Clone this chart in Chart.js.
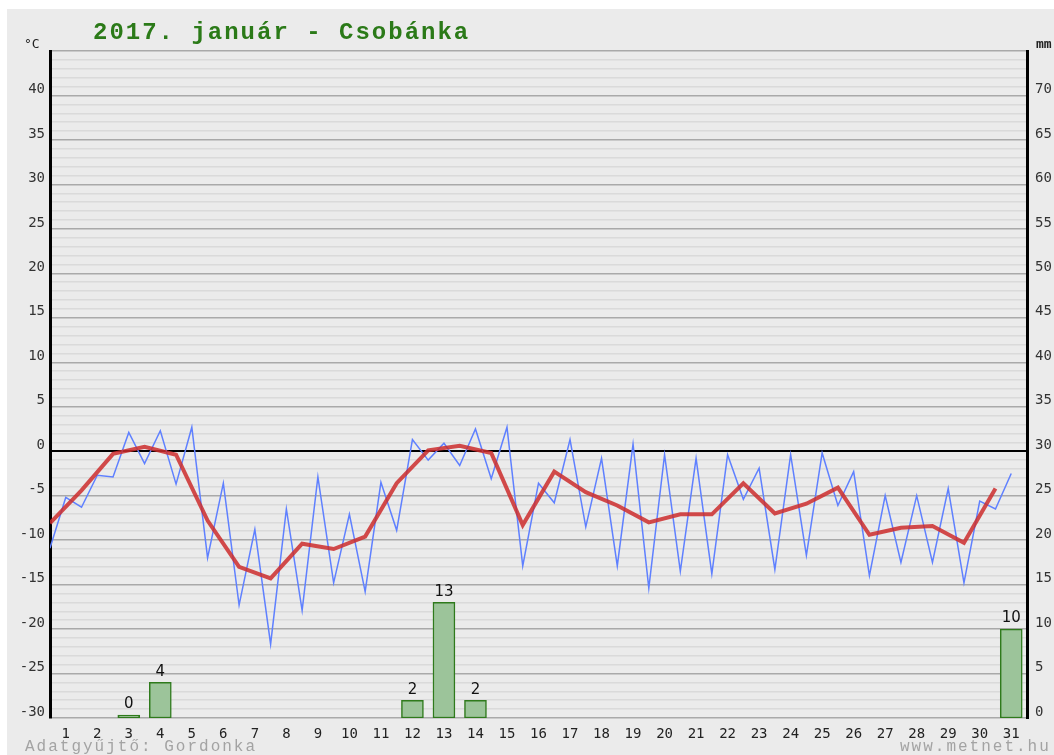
<!DOCTYPE html>
<html>
<head>
  <title>2017. január - Csobánka</title>
  <style>
    body {
      margin: 0;
      background: #ffffff;
    }
    #wrap {
      width: 1054px;
      height: 755px;
    }
  </style>
  <script src="https://cdn.jsdelivr.net/npm/chart.js"></script>
</head>
<body>
  <div id="wrap">
    <canvas id="chart" width="1054" height="755"></canvas>
  </div>
  <script>
    // Days of the month on the x axis
    const days = [1, 2, 3, 4, 5, 6, 7, 8, 9, 10, 11, 12, 13, 14, 15, 16,
                  17, 18, 19, 20, 21, 22, 23, 24, 25, 26, 27, 28, 29, 30, 31];

    // Temperature readings, two per day (°C), starting half a day before day 1
    const halfDayTemps = [
      -10.9, -5.2, -6.3, -2.7, -2.9, 2.1, -1.4, 2.3, -3.7, 2.7,
      -12.0, -3.6, -17.3, -8.8, -21.7, -6.5, -17.9, -2.9, -14.8, -7.1,
      -15.8, -3.5, -8.9, 1.3, -1.0, 0.9, -1.6, 2.5, -3.1, 2.7,
      -12.9, -3.6, -5.8, 1.3, -8.5, -0.8, -12.9, 0.8, -15.4, -0.4,
      -13.5, -0.8, -13.8, -0.4, -5.4, -1.9, -13.3, -0.4, -11.7, -0.2,
      -6.1, -2.3, -14.0, -5.0, -12.5, -5.0, -12.5, -4.2, -14.8, -5.6,
      -6.5, -2.5
    ];

    // Daily mean temperature (°C)
    const dailyMean = [
      -8.1, -4.4, -0.3, 0.5, -0.4, -7.8, -13.0, -14.3, -10.4, -11.0,
      -9.6, -3.6, 0.1, 0.6, -0.2, -8.3, -2.3, -4.6, -6.1, -8.0,
      -7.1, -7.1, -3.6, -7.0, -5.9, -4.1, -9.4, -8.6, -8.4, -10.3,
      -4.2
    ];

    // Precipitation (mm)
    const rainDays = [3, 4, 12, 13, 14, 31];
    const rainMm = [0, 4, 2, 13, 2, 10];

    const tempTicks = [-30, -25, -20, -15, -10, -5, 0, 5, 10, 15, 20, 25, 30, 35, 40];
    const rainTicks = [0, 5, 10, 15, 20, 25, 30, 35, 40, 45, 50, 55, 60, 65, 70];

    const monoFont = "'DejaVu Sans Mono', monospace";

    const tempPoints = halfDayTemps.map((t, i) => ({ x: 0.5 + i * 0.5, y: t }));
    const meanPoints = dailyMean.map((t, i) => ({ x: days[i] - 0.5, y: t }));
    const rainPoints = rainDays.map((d, i) => ({ x: d, y: rainMm[i] }));

    // Panel background, title, units and footer text
    const decorations = {
      id: 'decorations',
      beforeDraw(chart) {
        const ctx = chart.ctx;
        ctx.save();
        ctx.fillStyle = '#ffffff';
        ctx.fillRect(0, 0, chart.width, chart.height);
        ctx.fillStyle = '#ebebeb';
        ctx.fillRect(7, 9, chart.width - 7, chart.height - 9);
        ctx.restore();
      },
      afterDraw(chart) {
        const ctx = chart.ctx;
        ctx.save();
        ctx.textBaseline = 'alphabetic';
        ctx.textAlign = 'left';

        ctx.fillStyle = '#2b7a18';
        ctx.font = "bold 24px 'Liberation Mono', monospace";
        ctx.letterSpacing = '2px';
        ctx.fillText('2017. január - Csobánka', 93, 39);

        ctx.letterSpacing = '0px';
        ctx.fillStyle = '#222';
        ctx.font = '13px ' + monoFont;
        ctx.fillText('°C', 24, 48);
        ctx.font = 'bold 13px ' + monoFont;
        ctx.fillText('mm', 1036, 48);

        ctx.fillStyle = '#a3a3a3';
        ctx.font = "16px 'Liberation Mono', monospace";
        ctx.letterSpacing = '2px';
        ctx.fillText('Adatgyűjtő: Gordonka', 25, 751);
        ctx.fillText('www.metnet.hu', 900, 751);
        ctx.restore();
      }
    };

    // Value labels above the precipitation bars
    const barLabels = {
      id: 'barLabels',
      afterDatasetsDraw(chart) {
        const ctx = chart.ctx;
        const meta = chart.getDatasetMeta(0);
        ctx.save();
        ctx.fillStyle = '#111';
        ctx.font = "15px 'DejaVu Sans', sans-serif";
        ctx.textAlign = 'center';
        ctx.textBaseline = 'bottom';
        meta.data.forEach((bar, i) => {
          ctx.fillText(String(rainMm[i]), bar.x, bar.y - 3);
        });
        ctx.restore();
      }
    };

    new Chart(document.getElementById('chart'), {
      data: {
        datasets: [
          {
            type: 'bar',
            data: rainPoints,
            yAxisID: 'y2',
            backgroundColor: '#9cc49a',
            borderColor: '#2f7a1c',
            borderWidth: 1.5,
            borderSkipped: false,
            barThickness: 22,
            minBarLength: 3,
            order: 3
          },
          {
            type: 'line',
            data: tempPoints,
            yAxisID: 'y',
            borderColor: '#5f80ff',
            borderWidth: 1.5,
            pointRadius: 0,
            tension: 0,
            order: 2
          },
          {
            type: 'line',
            data: meanPoints,
            yAxisID: 'y',
            borderColor: 'rgba(205, 45, 45, 0.85)',
            borderWidth: 4,
            pointRadius: 0,
            tension: 0,
            order: 1
          }
        ]
      },
      options: {
        responsive: false,
        animation: false,
        events: [],
        layout: { padding: { top: 51, left: 0, right: 0, bottom: 0 } },
        plugins: {
          legend: { display: false },
          tooltip: { enabled: false }
        },
        scales: {
          x: {
            type: 'linear',
            offset: false,
            min: 0.5,
            max: 31.5,
            grid: { display: false, offset: false },
            border: { display: false },
            afterBuildTicks: scale => {
              scale.ticks = days.map(d => ({ value: d }));
            },
            afterFit: scale => { scale.height = 37; },
            ticks: {
              autoSkip: false,
              maxRotation: 0,
              padding: 0,
              color: '#222',
              font: { family: monoFont, size: 14 },
              callback: v => String(v)
            }
          },
          y: {
            position: 'left',
            min: -30,
            max: 45,
            afterBuildTicks: scale => {
              const ticks = [];
              for (let v = -30; v <= 45; v++) ticks.push({ value: v });
              scale.ticks = ticks;
            },
            afterFit: scale => { scale.width = 50; },
            border: { display: true, color: '#000', width: 3 },
            grid: {
              drawTicks: false,
              color: c => c.tick.value === 0 ? '#000000'
                : (c.tick.value % 5 === 0 ? '#a9a9a9' : '#dadada'),
              lineWidth: c => c.tick.value === 0 ? 2 : 1.5
            },
            ticks: {
              autoSkip: false,
              padding: 5,
              labelOffset: -6,
              color: '#333',
              font: { family: monoFont, size: 14 },
              callback: v => tempTicks.includes(v) ? String(v) : ''
            }
          },
          y2: {
            position: 'right',
            min: 0,
            max: 75,
            afterBuildTicks: scale => {
              scale.ticks = rainTicks.map(v => ({ value: v }));
            },
            afterFit: scale => { scale.width = 27; },
            border: { display: true, color: '#000', width: 3 },
            grid: { display: false, drawTicks: false },
            ticks: {
              autoSkip: false,
              padding: 8,
              labelOffset: -6,
              color: '#333',
              font: { family: monoFont, size: 14 },
              callback: v => String(v)
            }
          }
        }
      },
      plugins: [decorations, barLabels]
    });
  </script>
</body>
</html>
